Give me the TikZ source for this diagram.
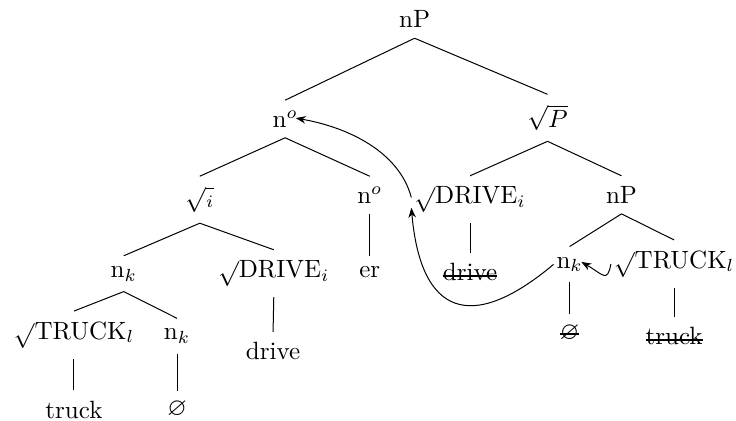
\documentclass[tikz,border=0pt]{standalone}
\usepackage{amsmath}
\usepackage{amssymb}
\usepackage{tikz}
\usetikzlibrary{arrows.meta}

\newsavebox{\strbox}
\newcommand{\strk}[1]{\sbox{\strbox}{#1}\rlap{\rule[1.6pt]{\wd\strbox}{0.8pt}}\usebox{\strbox}}
\newcommand{\rt}{$\sqrt{\vphantom{_i}}$}

\begin{document}
\begin{tikzpicture}[
      every node/.style={anchor=base, inner xsep=1pt, inner ysep=4pt},
      mv/.style={-{Stealth[length=4pt,width=3pt]}}
    ]
      \useasboundingbox (0,0) rectangle (10.35,5.92);

      \node (top) at (5.83,5.53) {nP};
      \node (no1) at (4.01,4.13) {n$^o$};
      \node (sqp) at (7.70,4.12) {$\sqrt{P}$};

      % left half
      \node (sqi) at (2.81,3.06) {$\sqrt{_i}$};
      \node (no2) at (5.20,3.06) {n$^o$};
      \node (lnk) at (1.74,2.02) {n$_k$};
      \node (ldrv) at (3.85,2.02) {\rt DRIVE$_i$};
      \node (er) at (5.20,2.02) {er};
      \node (ltr) at (1.04,1.15) {\rt TRUCK$_l$};
      \node (lnk2) at (2.49,1.14) {n$_k$};
      \node (ldrive) at (3.84,0.86) {drive};
      \node (ltruck) at (1.04,0.04) {truck};
      \node (lnull) at (2.49,0.07) {$\varnothing$};

      % right half
      \node (rdrv) at (6.61,3.06) {\rt DRIVE$_i$};
      \node (rnp) at (8.74,3.06) {nP};
      \node (rdrive) at (6.61,1.97) {\strk{drive}};
      \node (rnk) at (8.01,2.15) {n$_k$};
      \node (rtr) at (9.48,2.15) {\rt TRUCK$_l$};
      \node (rnull) at (8.01,1.15) {\strk{$\varnothing$}};
      \node (rtruck) at (9.48,1.07) {\strk{truck}};

      \draw (top.south) -- (no1.north);
      \draw (top.south) -- (sqp.north);
      \draw (no1.south) -- (sqi.north);
      \draw (no1.south) -- (no2.north);
      \draw (sqp.south) -- (rdrv.north);
      \draw (sqp.south) -- (rnp.north);
      \draw (sqi.south) -- (lnk.north);
      \draw (sqi.south) -- (ldrv.north);
      \draw (no2.south) -- (er.north);
      \draw (lnk.south) -- (ltr.north);
      \draw (lnk.south) -- (lnk2.north);
      \draw (ldrv.south) -- (ldrive.north);
      \draw (ltr.south) -- (ltruck.north);
      \draw (lnk2.south) -- (lnull.north);
      \draw (rdrv.south) -- (rdrive.north);
      \draw (rnp.south) -- (rnk.north);
      \draw (rnp.south) -- (rtr.north);
      \draw (rnk.south) -- (rnull.north);
      \draw (rtr.south) -- (rtruck.north);

      % movement
      \draw[mv, shorten >=-2pt] (rdrv.178) to[out=105, in=-10, looseness=0.9] (no1.east);
      \draw[mv] (rnk.west) to[out=-140, in=-85, looseness=1.8] (rdrv.188);
      \draw[mv, shorten >=-2pt] (rtr.west) to[out=-100, in=-30, looseness=2] (rnk.east);
    \end{tikzpicture}
\end{document}
